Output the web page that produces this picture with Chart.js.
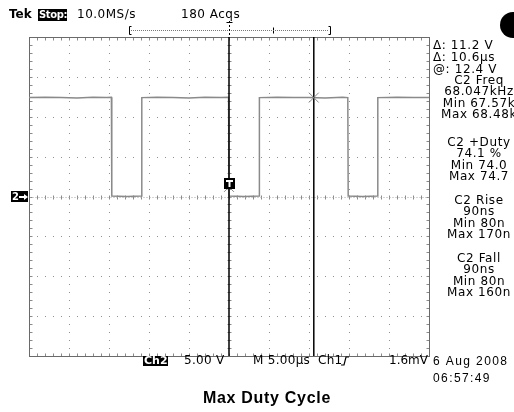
<!DOCTYPE html>
<html><head><meta charset="utf-8">
<script src="https://cdn.jsdelivr.net/npm/chart.js@4.4.0/dist/chart.umd.min.js"></script>
<style>html,body{margin:0;padding:0;background:#fff;}canvas{display:block}</style>
</head><body>
<canvas id="c" width="514" height="412"></canvas>
<script>
// ---- data (time in microseconds, Ch2 volts) ----
const timeUs   = [-25, -23, -21, -19, -17, -15.3, -14.7, -14.65, -12.8, -10.95, -10.9, -9, -7, -5, -3, -1, -0.05, 0, 1.9, 3.75, 3.8, 6, 8, 10, 12, 14.2, 14.85, 14.9, 16.7, 18.55, 18.6, 21, 23, 25];
const ch2Volts = [12.4, 12.45, 12.4, 12.35, 12.45, 12.4, 12.45, 0.05, 0.0, 0.05, 12.4, 12.45, 12.4, 12.35, 12.45, 12.4, 12.45, 0.05, 0.0, 0.05, 12.4, 12.45, 12.4, 12.4, 12.35, 12.45, 12.4, 0.05, 0.0, 0.05, 12.4, 12.45, 12.4, 12.4];
const cursorTimes = [0, 10.6];
const cursorVolts = [1.2, 12.4];
const xRange = [-25, 25];   // 10 div x 5.00 us
const yRange = [-20, 20];   // 8 div x 5.00 V
const cursorReadout = ["\u0394: 11.2 V", "\u0394: 10.6\u00b5s", "@: 12.4 V"];
const freqLines = ["C2 Freq", "68.047kHz", "Min 67.57k", "Max 68.48k"];
const dutyLines = ["C2 +Duty", "74.1 %", "Min 74.0", "Max 74.7"];
const riseLines = ["C2 Rise", "90ns", "Min 80n", "Max 170n"];
const fallLines = ["C2 Fall", "90ns", "Min 80n", "Max 160n"];
const headerTexts = ["Tek", "Stop:", "10.0MS/s", "180 Acqs"];
const footerTexts = ["Ch2", "5.00 V", "M 5.00\u00b5s", "Ch1", "1.6mV"];
const dateTexts = ["6 Aug 2008", "06:57:49"];
const title = "Max Duty Cycle";

const wave = timeUs.map((t, i) => ({x: t, y: ch2Volts[i]}));

const scopePlugin = {
  id: 'scope',
  beforeDatasetsDraw(chart) {
    const ctx = chart.ctx, sx = chart.scales.x, sy = chart.scales.y;
    const L = Math.round(sx.getPixelForValue(xRange[0])) + 0.5;
    const R = Math.round(sx.getPixelForValue(xRange[1])) + 0.5;
    const T = Math.round(sy.getPixelForValue(yRange[1])) + 0.5;
    const B = Math.round(sy.getPixelForValue(yRange[0])) + 0.5;
    ctx.save();
    // dotted grid
    ctx.fillStyle = '#8f8f8f';
    for (let t = xRange[0] + 5; t < xRange[1]; t += 5) {
      const px = Math.round(sx.getPixelForValue(t));
      for (let v = yRange[0]; v <= yRange[1]; v += 1) {
        ctx.fillRect(px, Math.round(sy.getPixelForValue(v)), 1, 1);
      }
    }
    for (let v = yRange[0] + 5; v < yRange[1]; v += 5) {
      const py = Math.round(sy.getPixelForValue(v));
      for (let t = xRange[0]; t <= xRange[1]; t += 1) {
        ctx.fillRect(Math.round(sx.getPixelForValue(t)), py, 1, 1);
      }
    }
    // centre-line ticks
    ctx.strokeStyle = '#8a8a8a'; ctx.lineWidth = 1;
    ctx.beginPath();
    const cy = Math.round(sy.getPixelForValue(0)) + 0.5;
    const cx = Math.round(sx.getPixelForValue(0)) + 0.5;
    for (let t = xRange[0]; t <= xRange[1]; t += 1) {
      const px = Math.round(sx.getPixelForValue(t)) + 0.5;
      ctx.moveTo(px, cy - 2); ctx.lineTo(px, cy + 2);
      ctx.moveTo(px, T); ctx.lineTo(px, T + 3);
      ctx.moveTo(px, B); ctx.lineTo(px, B - 3);
    }
    for (let v = yRange[0]; v <= yRange[1]; v += 1) {
      const py = Math.round(sy.getPixelForValue(v)) + 0.5;
      ctx.moveTo(cx - 2, py); ctx.lineTo(cx + 2, py);
      ctx.moveTo(L, py); ctx.lineTo(L + 3, py);
      ctx.moveTo(R, py); ctx.lineTo(R - 3, py);
    }
    ctx.stroke();
    ctx.beginPath();
    ctx.moveTo(L, cy); ctx.lineTo(R, cy);
    ctx.setLineDash([1, 2]);
    ctx.strokeStyle = '#aaaaaa';
    ctx.stroke();
    ctx.setLineDash([]);
    // frame
    ctx.strokeStyle = '#6a6a6a';
    ctx.strokeRect(L, T, R - L, B - T);
    ctx.restore();
  },
  afterDatasetsDraw(chart) {
    const ctx = chart.ctx, sx = chart.scales.x, sy = chart.scales.y;
    const cx = Math.round(sx.getPixelForValue(0)) + 0.5;
    const T = Math.round(sy.getPixelForValue(yRange[1]));
    const gy = Math.round(sy.getPixelForValue(0));
    ctx.save();
    ctx.textBaseline = 'middle';
    // header
    ctx.fillStyle = '#000';
    ctx.font = 'bold 12px "DejaVu Sans"';
    ctx.textAlign = 'left';
    ctx.fillText(headerTexts[0], 9, 15);
    ctx.fillRect(38, 9, 29, 12);
    ctx.fillStyle = '#fff';
    ctx.font = 'bold 10px "DejaVu Sans"';
    ctx.letterSpacing = '-0.4px';
    ctx.fillText(headerTexts[1], 39, 15);
    ctx.fillStyle = '#000';
    ctx.font = '12px "DejaVu Sans"';
    ctx.letterSpacing = '0.5px';
    ctx.fillText(headerTexts[2], 77, 15);
    ctx.fillText(headerTexts[3], 181, 15);
    ctx.letterSpacing = '0px';
    // record bracket
    const bl = 129, br = 331, by = 30.5;
    ctx.strokeStyle = '#000'; ctx.lineWidth = 1;
    ctx.beginPath();
    ctx.moveTo(bl + 2.5, by - 4); ctx.lineTo(bl + 0.5, by - 4); ctx.lineTo(bl + 0.5, by + 4); ctx.lineTo(bl + 2.5, by + 4);
    ctx.moveTo(br - 2.5, by - 4); ctx.lineTo(br - 0.5, by - 4); ctx.lineTo(br - 0.5, by + 4); ctx.lineTo(br - 2.5, by + 4);
    ctx.moveTo(273.5, by - 3); ctx.lineTo(273.5, by + 3);
    ctx.stroke();
    ctx.strokeStyle = '#777';
    ctx.setLineDash([1, 1]);
    ctx.beginPath(); ctx.moveTo(bl + 2, by); ctx.lineTo(br - 2, by); ctx.stroke();
    ctx.strokeStyle = '#000';
    ctx.setLineDash([2, 2]);
    ctx.beginPath(); ctx.moveTo(cx, 21); ctx.lineTo(cx, T); ctx.stroke();
    ctx.setLineDash([]);
    ctx.beginPath(); ctx.moveTo(cx - 3, 22.5); ctx.lineTo(cx + 3, 22.5); ctx.stroke();
    // circle at top right
    ctx.fillStyle = '#000';
    ctx.beginPath(); ctx.arc(513, 25, 13, 0, Math.PI * 2); ctx.fill();
    // ground marker "2->"
    ctx.fillRect(11, gy - 6, 17, 11);
    ctx.fillStyle = '#fff';
    ctx.font = 'bold 10px "DejaVu Sans"';
    ctx.fillText('2', 12, gy);
    ctx.fillRect(19, gy - 1, 6, 2);
    ctx.beginPath(); ctx.moveTo(28, gy); ctx.lineTo(24, gy - 3); ctx.lineTo(24, gy + 3); ctx.fill();
    // trigger level marker
    ctx.fillStyle = '#000';
    ctx.fillRect(cx - 5.5, gy - 19, 11, 11);
    ctx.fillStyle = '#fff';
    ctx.fillRect(cx - 3.5, gy - 17, 7, 2);
    ctx.fillRect(cx - 1, gy - 17, 2, 7);
    // right readouts
    ctx.fillStyle = '#000';
    ctx.font = '12px "DejaVu Sans"';
    ctx.letterSpacing = '0.6px';
    ctx.textAlign = 'left';
    cursorReadout.forEach((s, i) => ctx.fillText(s, 433, 46 + i * 12));
    ctx.textAlign = 'center';
    const blocks = [[freqLines, 81], [dutyLines, 143], [riseLines, 201], [fallLines, 259]];
    blocks.forEach(([lines, y0]) => lines.forEach((s, i) => ctx.fillText(s, 479, y0 + i * 11.3)));
    // footer
    ctx.textAlign = 'left';
    ctx.fillRect(143, 356, 25, 10);
    ctx.fillStyle = '#fff';
    ctx.font = 'bold 11px "DejaVu Sans"';
    ctx.letterSpacing = '0px';
    ctx.fillText(footerTexts[0], 144, 361);
    ctx.fillStyle = '#000';
    ctx.font = '12px "DejaVu Sans"';
    ctx.letterSpacing = '0.3px';
    ctx.fillText(footerTexts[1], 184, 361);
    ctx.fillText(footerTexts[2], 253, 361);
    ctx.fillText(footerTexts[3], 318, 361);
    ctx.letterSpacing = '0px';
    ctx.fillText(footerTexts[4], 389, 361);
    // trigger slope icon
    ctx.strokeStyle = '#000'; ctx.lineWidth = 1.2;
    ctx.beginPath();
    ctx.moveTo(341, 365); ctx.lineTo(344, 365); ctx.lineTo(346, 357); ctx.lineTo(349, 357);
    ctx.stroke();
    ctx.font = '12px "Liberation Sans"';
    ctx.letterSpacing = '1.4px';
    ctx.fillText(dateTexts[0], 433, 362);
    ctx.fillText(dateTexts[1], 433, 379);
    ctx.font = 'bold 16px "Liberation Sans"';
    ctx.letterSpacing = '0.7px';
    ctx.textAlign = 'center';
    ctx.fillText(title, 267, 399);
    ctx.restore();
  }
};

new Chart(document.getElementById('c'), {
  type: 'line',
  data: {
    datasets: [
      { data: wave, borderColor: '#8a8a8a', borderWidth: 1.5, pointRadius: 0, tension: 0, order: 3 },
      { data: [{x: cursorTimes[0], y: yRange[0]}, {x: cursorTimes[0], y: yRange[1]}], borderColor: '#000', borderWidth: 1.5, pointRadius: 0, order: 2 },
      { data: [{x: cursorTimes[1], y: yRange[0]}, {x: cursorTimes[1], y: yRange[1]}], borderColor: '#000', borderWidth: 1.5, pointRadius: 0, order: 2 },
      { type: 'scatter', data: cursorTimes.map((t, i) => ({x: t, y: cursorVolts[i]})), pointStyle: 'crossRot', pointRadius: 7, borderColor: '#8a8a8a', borderWidth: 1, order: 1 }
    ]
  },
  options: {
    responsive: false, animation: false, devicePixelRatio: 1,
    layout: { padding: { left: 29, top: 37, right: 85, bottom: 56 } },
    plugins: { legend: { display: false }, tooltip: { enabled: false }, title: { display: false } },
    scales: {
      x: { type: 'linear', min: xRange[0], max: xRange[1], display: false },
      y: { type: 'linear', min: yRange[0], max: yRange[1], display: false }
    }
  },
  plugins: [scopePlugin]
});
</script>
</body></html>
